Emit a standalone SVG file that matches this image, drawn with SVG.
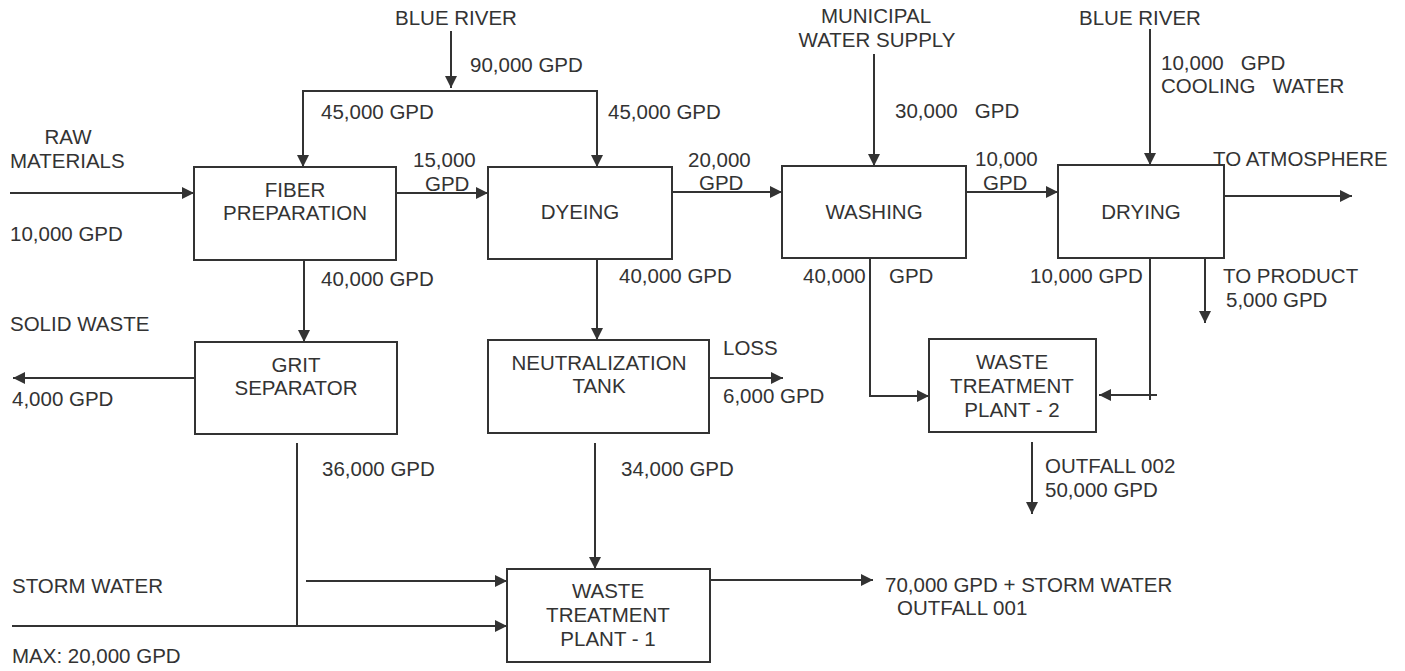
<svg xmlns="http://www.w3.org/2000/svg" width="1405" height="671" viewBox="0 0 1405 671">
<style>
.box{fill:none;stroke:#333;stroke-width:2}
.ln{fill:none;stroke:#333;stroke-width:2}
.ar{marker-end:url(#ah)}
text{font-family:"Liberation Sans",Arial,sans-serif;font-size:20.5px;fill:#333;white-space:pre}
.c{text-anchor:middle}
</style>
<defs>
<marker id="ah" markerUnits="userSpaceOnUse" markerWidth="13" markerHeight="13" refX="12" refY="6" orient="auto">
<path d="M0,0 L12,6 L0,12 z" fill="#333"/>
</marker>
</defs>
<rect width="1405" height="671" fill="#fff"/>

<g id="connectors">
<path class="ln ar" d="M10,193 H194"/>
<path class="ln ar" d="M451,31 V88"/>
<path class="ln ar" d="M451,91 H303 V167"/>
<path class="ln ar" d="M451,91 H597 V167"/>
<path class="ln ar" d="M396,193 H488"/>
<path class="ln ar" d="M672,192 H782"/>
<path class="ln ar" d="M874,54 V166"/>
<path class="ln ar" d="M966,192 H1058"/>
<path class="ln ar" d="M1150,29 V165"/>
<path class="ln ar" d="M1224,196 H1352"/>
<path class="ln ar" d="M1205,258 V323"/>
<path class="ln ar" d="M1150,258 V400 M1157,395 H1099"/>
<path class="ln ar" d="M870,258 V396 H929"/>
<path class="ln ar" d="M1032,442 V514"/>
<path class="ln ar" d="M304,260 V342"/>
<path class="ln ar" d="M195,378 H13"/>
<path class="ln" d="M297,443 V626"/>
<path class="ln ar" d="M12,626 H507"/>
<path class="ln ar" d="M306,581 H507"/>
<path class="ln ar" d="M597,259 V340"/>
<path class="ln ar" d="M709,378 H783"/>
<path class="ln ar" d="M595,443 V569"/>
<path class="ln ar" d="M710,580 H873"/>
</g>

<g id="fiber">
<rect class="box" x="194" y="167" width="202" height="93"/>
<text class="c" x="295" y="197">FIBER</text>
<text class="c" x="295" y="220">PREPARATION</text>
</g>
<g id="dyeing">
<rect class="box" x="488" y="167" width="184" height="92"/>
<text class="c" x="580" y="219">DYEING</text>
</g>
<g id="washing">
<rect class="box" x="782" y="166" width="184" height="92"/>
<text class="c" x="874" y="219">WASHING</text>
</g>
<g id="drying">
<rect class="box" x="1058" y="165" width="166" height="93"/>
<text class="c" x="1141" y="219">DRYING</text>
</g>
<g id="grit">
<rect class="box" x="195" y="342" width="202" height="92"/>
<text class="c" x="296" y="372">GRIT</text>
<text class="c" x="296" y="395">SEPARATOR</text>
</g>
<g id="neutralization">
<rect class="box" x="488" y="340" width="221" height="93"/>
<text class="c" x="599" y="370">NEUTRALIZATION</text>
<text class="c" x="599" y="393">TANK</text>
</g>
<g id="wtp1">
<rect class="box" x="507" y="569" width="203" height="93"/>
<text class="c" x="608" y="598">WASTE</text>
<text class="c" x="608" y="622">TREATMENT</text>
<text class="c" x="608" y="646">PLANT - 1</text>
</g>
<g id="wtp2">
<rect class="box" x="929" y="339" width="167" height="93"/>
<text class="c" x="1012" y="369">WASTE</text>
<text class="c" x="1012" y="393">TREATMENT</text>
<text class="c" x="1012" y="417">PLANT - 2</text>
</g>

<g id="labels">
<text x="395" y="25">BLUE RIVER</text>
<text x="470" y="72">90,000 GPD</text>
<text x="321" y="119">45,000 GPD</text>
<text x="608" y="119">45,000 GPD</text>
<text class="c" x="68" y="144">RAW</text>
<text x="10" y="168">MATERIALS</text>
<text x="10" y="241">10,000 GPD</text>
<text x="413" y="167">15,000</text>
<text x="425" y="191">GPD</text>
<text x="688" y="167">20,000</text>
<text x="699" y="190">GPD</text>
<text class="c" x="876" y="23">MUNICIPAL</text>
<text class="c" x="877" y="47">WATER SUPPLY</text>
<text x="895" y="118">30,000   GPD</text>
<text x="975" y="166">10,000</text>
<text x="983" y="190">GPD</text>
<text x="1079" y="25">BLUE RIVER</text>
<text x="1161" y="70">10,000   GPD</text>
<text x="1161" y="93">COOLING   WATER</text>
<text x="1213" y="166">TO ATMOSPHERE</text>
<text x="321" y="286">40,000 GPD</text>
<text x="619" y="283">40,000 GPD</text>
<text x="803" y="283">40,000</text>
<text x="889" y="283">GPD</text>
<text x="1030" y="283">10,000 GPD</text>
<text x="1223" y="283">TO PRODUCT</text>
<text x="1226" y="307">5,000 GPD</text>
<text x="10" y="331">SOLID WASTE</text>
<text x="12" y="406">4,000 GPD</text>
<text x="723" y="355">LOSS</text>
<text x="723" y="403">6,000 GPD</text>
<text x="1045" y="473">OUTFALL 002</text>
<text x="1045" y="497">50,000 GPD</text>
<text x="322" y="476">36,000 GPD</text>
<text x="621" y="476">34,000 GPD</text>
<text x="12" y="593">STORM WATER</text>
<text x="12" y="663">MAX: 20,000 GPD</text>
<text x="885" y="592">70,000 GPD + STORM WATER</text>
<text x="897" y="615">OUTFALL 001</text>
</g>
</svg>
